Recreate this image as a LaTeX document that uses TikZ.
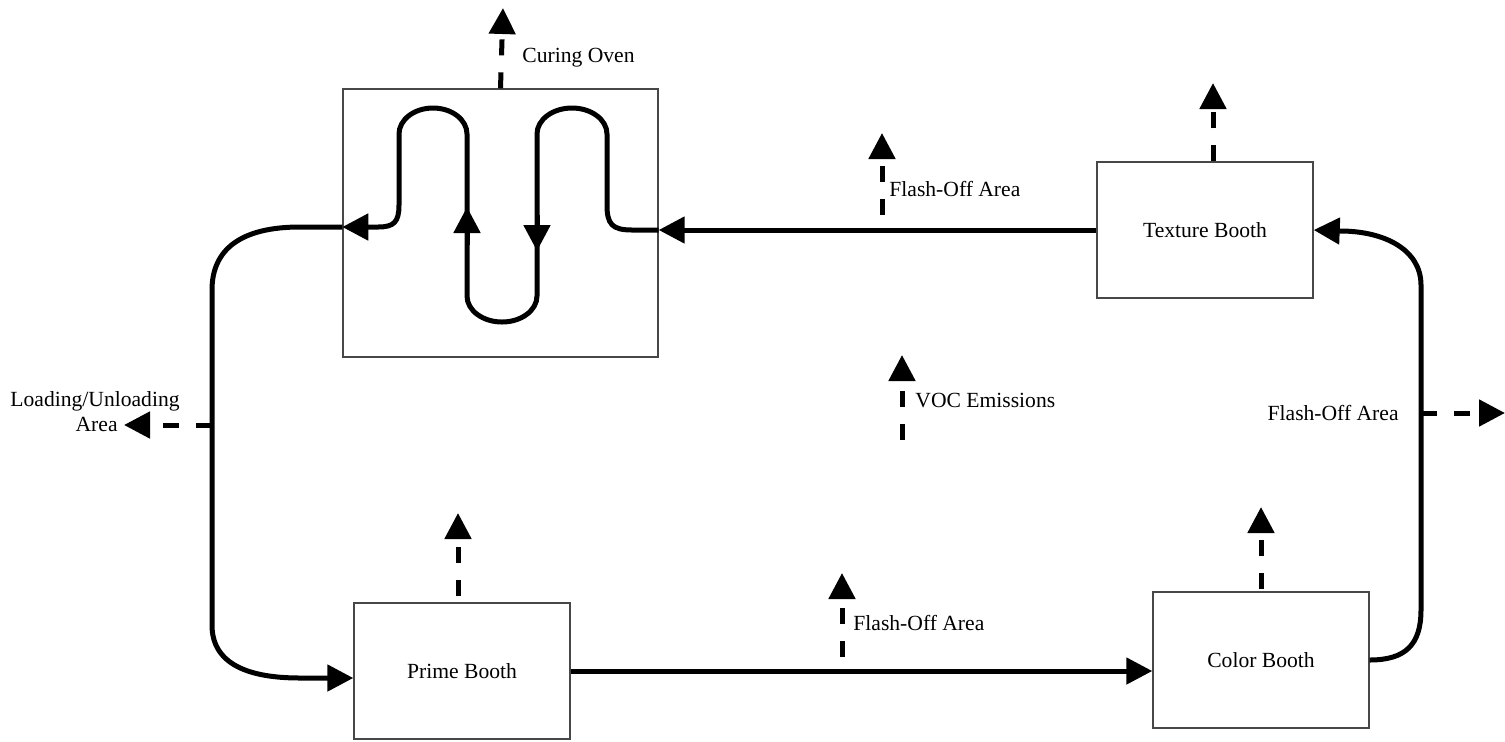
\documentclass[tikz,border=0pt]{standalone}
\usepackage{fontspec}
\setmainfont{Liberation Serif}
\usetikzlibrary{arrows.meta,calc}
\tikzset{
  txt/.style={font=\fontsize{10.8}{13}\selectfont},
  box/.style={draw=black!72, line width=0.7pt, minimum width=108pt, minimum height=68pt, inner sep=0pt, txt},
  flow/.style={line width=2.5pt, -{Triangle[length=13pt,width=13pt]}},
  emis/.style={line width=2.5pt, dash pattern=on 8pt off 8.5pt, -{Triangle[length=13pt,width=13pt]}},
  lbl/.style={inner sep=0pt, txt}
}
\begin{document}
\begin{tikzpicture}[x=0.5pt,y=-0.5pt]
\useasboundingbox (0,0) rectangle (1505,741);

% boxes
\node[box, minimum width=157.5pt, minimum height=134pt] (oven) at (500.5,223) {};
\node[box] (texture) at (1205,230) {Texture Booth};
\node[box] (prime) at (462,671) {Prime Booth};
\node[box] (color) at (1261,660) {Color Booth};

% main conveyor connectors
\draw[flow] (texture.west) -- (texture.west -| oven.east);
\draw[flow] (prime.east) -- (prime.east -| color.west);
\draw[flow] (color.east) .. controls (1405,660) and (1421,645) .. (1421,610)
  -- (1421,285) .. controls (1421,250) and (1385,231) .. (1340,231) -- (texture.east);
\draw[flow] ($(oven.west)+(0,4)$) -- (300,227) .. controls (240,227) and (212,250) .. (212,290)
  -- (212,625) .. controls (212,665) and (250,678) .. (300,678) -- ($(prime.west)+(0,7)$);

% serpentine path inside the curing oven
\draw[flow] (texture.west -| oven.east) -- (632,230) .. controls (612,230) and (607,224) .. (607,205)
  -- (607,134) arc[start angle=0, end angle=-180, x radius=35, y radius=26]
  -- (537,296) arc[start angle=0, end angle=180, x radius=35, y radius=26]
  -- (467,134) arc[start angle=0, end angle=-180, x radius=34, y radius=26]
  -- (399,205) .. controls (399,222) and (394,227) .. (378,227) -- ($(oven.west)+(0,4)$);
\draw[flow] (467,245) -- (467,207);
\draw[flow] (537,215) -- (537,251);

% emissions arrows
\coordinate (ovenTip) at (503,8);
\draw[emis] (oven.north) -- (ovenTip);
\node[lbl, anchor=west] (ovenLbl) at (522,58) {Curing Oven};

\coordinate (texTop) at ($(texture.north)+(8,0)$);
\coordinate (texTip) at (1213,83);
\draw[emis] (texTop) -- (texTip);

\coordinate (primeTop) at ($(prime.north)+(-4,-6)$);
\coordinate (primeTip) at (458,513);
\draw[emis] (primeTop) -- (primeTip);

\coordinate (colorTop) at ($(color.north)+(0,-2)$);
\coordinate (colorTip) at (1261,507);
\draw[emis] (colorTop) -- (colorTip);

\coordinate (f1a) at (882,215);
\coordinate (f1b) at (882,133);
\draw[emis] (f1a) -- (f1b);
\node[lbl, anchor=west] (f1Lbl) at (889,189) {Flash-Off Area};

\coordinate (voca) at (902,440);
\coordinate (vocb) at (902,355);
\draw[emis] (voca) -- (vocb);
\node[lbl, anchor=west] (vocLbl) at (915,401) {VOC Emissions};

\coordinate (f2a) at (842,657);
\coordinate (f2b) at (842,573);
\draw[emis] (f2a) -- (f2b);
\node[lbl, anchor=west] (f2Lbl) at (853,623) {Flash-Off Area};

\coordinate (loadA) at (212,425);
\coordinate (loadB) at (124,425);
\draw[emis] (loadA) -- (loadB);
\node[lbl, anchor=east] (loadLbl1) at (180,401) {Loading/Unloading};
\node[lbl, anchor=east] (loadLbl2) at (118,424) {Area};

\coordinate (f3a) at (1421,413);
\coordinate (f3b) at (1505,413);
\draw[emis] (f3a) -- (f3b);
\node[lbl, anchor=east] (f3Lbl) at (1399,413) {Flash-Off Area};
\end{tikzpicture}
\end{document}
